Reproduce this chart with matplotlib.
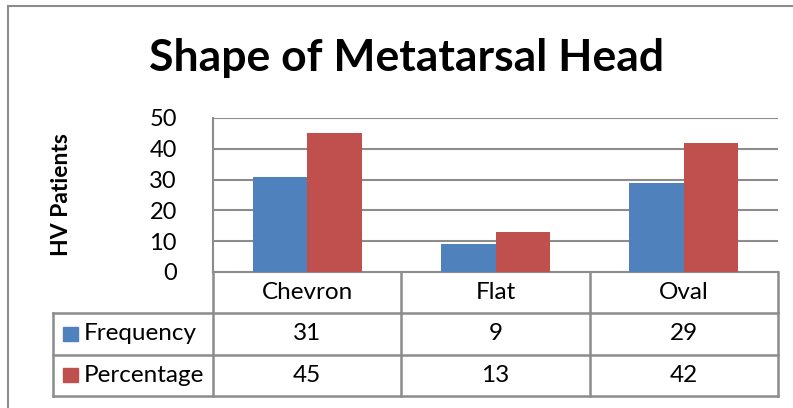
import numpy as np
import matplotlib.pyplot as plt
from matplotlib.lines import Line2D
from matplotlib.patches import Rectangle

plt.rcParams['font.family'] = ['Lato', 'DejaVu Sans']

categories = ['Chevron', 'Flat', 'Oval']
frequency = [31, 9, 29]
percentage = [45, 13, 42]
series_names = ['Frequency', 'Percentage']
colors = ['#4F81BD', '#C0504D']
yticks = [0, 10, 20, 30, 40, 50]

W, H = 793, 408
grid_color = '#8C8C8C'
fs = 17.5

fig = plt.figure(figsize=(W / 100, H / 100), dpi=100)


def px_box(x0, y0, x1, y1):
    # pixel box (top-left origin) -> figure fraction rect
    return [x0 / W, 1 - y1 / H, (x1 - x0) / W, (y1 - y0) / H]


# outer chart border (only top and left show)
fig.add_artist(Line2D([8 / W, 1], [1 - 6 / H, 1 - 6 / H], color='#8C8C8C', lw=1.5))
fig.add_artist(Line2D([8 / W, 8 / W], [0, 1 - 6 / H], color='#8C8C8C', lw=1.5))

# bars
ax = fig.add_axes(px_box(213, 118, 778, 272))
x = np.arange(len(categories))
bw = 0.29
ax.bar(x - bw / 2, frequency, bw, color=colors[0], zorder=3)
ax.bar(x + bw / 2, percentage, bw, color=colors[1], zorder=3)
ax.set_xlim(-0.5, len(categories) - 0.5)
ax.set_ylim(0, 50)
ax.set_yticks(yticks)
ax.set_xticks([])
ax.tick_params(axis='y', length=0, pad=26, labelsize=17)
for lab in ax.get_yticklabels():
    lab.set_horizontalalignment('right')
ax.grid(axis='y', color=grid_color, lw=1.5, zorder=1)
for s in ['top', 'right']:
    ax.spines[s].set_visible(False)
ax.spines['left'].set_color(grid_color)
ax.spines['left'].set_linewidth(1.5)
ax.spines['bottom'].set_color(grid_color)
ax.spines['bottom'].set_linewidth(1.5)
ax.set_ylabel('HV Patients', fontsize=16.5, fontweight='bold', labelpad=0)
ax.yaxis.set_label_coords(-141 / 565, 0.5)

fig.text(407 / W, 1 - 58 / H, 'Shape of Metatarsal Head', fontsize=32,
         fontweight='bold', ha='center', va='center')

# data table below the plot
px_per_unit = 565 / len(categories)
left_col = 160 / px_per_unit
tax = fig.add_axes(px_box(53, 272, 778, 396))
tax.set_xlim(-0.5 - left_col, len(categories) - 0.5)
tax.set_ylim(0, 3)
tax.axis('off')
lw = 1.8
for yy in [0, 1, 2]:
    tax.plot([-0.5 - left_col, len(categories) - 0.5], [yy, yy], color=grid_color, lw=lw, clip_on=False)
tax.plot([-0.5 - left_col] * 2, [0, 2], color=grid_color, lw=lw, clip_on=False)
for xx in np.arange(len(categories) + 1) - 0.5:
    tax.plot([xx, xx], [0, 3], color=grid_color, lw=lw, clip_on=False)

for i, cat in enumerate(categories):
    tax.text(i, 2.5, cat, ha='center', va='center', fontsize=fs)
    tax.text(i, 1.5, str(frequency[i]), ha='center', va='center', fontsize=fs)
    tax.text(i, 0.5, str(percentage[i]), ha='center', va='center', fontsize=fs)

sw = 15 / px_per_unit
for row, (name, c) in enumerate(zip(series_names, colors)):
    yc = 1.5 - row
    x0 = -0.5 - left_col + 10 / px_per_unit
    tax.add_patch(Rectangle((x0, yc - 0.17), sw, 0.34, color=c, clip_on=False))
    tax.text(x0 + sw + 6 / px_per_unit, yc, name, ha='left', va='center', fontsize=fs)

fig.savefig('out.png', dpi=100)
